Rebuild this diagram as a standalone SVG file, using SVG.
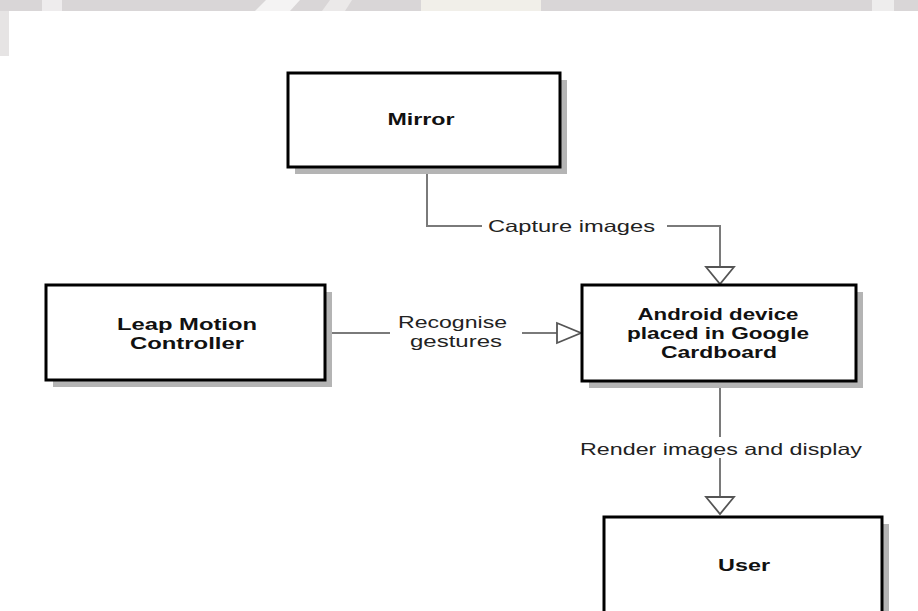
<svg xmlns="http://www.w3.org/2000/svg" width="918" height="611" viewBox="0 0 918 611">
  <style>
    .shadow { fill: #b4b4b4; }
    .box { fill: #ffffff; stroke: #000000; stroke-width: 3; }
    .lbl { font-family: "Liberation Sans", Arial, sans-serif; font-weight: bold; font-size: 16.5px; fill: #111111; text-anchor: middle; }
    .conn { fill: none; stroke: #7a7a7a; stroke-width: 2; }
    .head { fill: #ffffff; stroke: #555555; stroke-width: 1.8; stroke-linejoin: miter; }
    .clbl { font-family: "Liberation Sans", Arial, sans-serif; font-size: 16.5px; fill: #222222; }
  </style>
  <rect x="0" y="0" width="918" height="611" fill="#ffffff"/>
  <!-- faint watermark band at top -->
  <g id="band">
    <rect x="0" y="0" width="918" height="11" fill="#d9d6d7"/>
    <rect x="0" y="11" width="9" height="45" fill="#e6e4e4"/>
    <rect x="42" y="0" width="20" height="11" fill="#eeeced"/>
    <polygon points="266,0 300,0 290,11 255,11" fill="#f4f3f3"/>
    <polygon points="330,0 352,0 345,11 322,11" fill="#ebe9e9"/>
    <rect x="421" y="0" width="120" height="11" fill="#f1efe9"/>
    <rect x="872" y="0" width="22" height="11" fill="#eeeded"/>
  </g>

  <g id="connectors">
    <!-- Mirror -> Android -->
    <polyline class="conn" points="427,168 427,226 482,226"/>
    <polyline class="conn" points="667,226 720,226 720,267"/>
    <polygon class="head" points="706,267 734,267 720,284"/>
    <text class="clbl" x="488" y="232" textLength="167" lengthAdjust="spacingAndGlyphs">Capture images</text>
    <!-- Leap -> Android -->
    <line class="conn" x1="326" y1="333" x2="390" y2="333"/>
    <line class="conn" x1="522" y1="333" x2="557" y2="333"/>
    <polygon class="head" points="557,323 557,343 581,333"/>
    <text class="clbl" x="398" y="328" textLength="109" lengthAdjust="spacingAndGlyphs">Recognise</text>
    <text class="clbl" x="410" y="347" textLength="92" lengthAdjust="spacingAndGlyphs">gestures</text>
    <!-- Android -> User -->
    <line class="conn" x1="720" y1="382" x2="720" y2="437"/>
    <line class="conn" x1="720" y1="458" x2="720" y2="497"/>
    <polygon class="head" points="706,497 734,497 720,514"/>
    <text class="clbl" x="580" y="455" textLength="282" lengthAdjust="spacingAndGlyphs">Render images and display</text>
  </g>

  <g id="mirror">
    <rect class="shadow" x="295" y="80" width="272" height="94"/>
    <rect class="box" x="288" y="73" width="272" height="94"/>
    <text class="lbl" x="421" y="125" textLength="67" lengthAdjust="spacingAndGlyphs">Mirror</text>
  </g>

  <g id="leap">
    <rect class="shadow" x="53" y="292" width="279" height="95"/>
    <rect class="box" x="46" y="285" width="279" height="95"/>
    <text class="lbl" x="187" y="330" textLength="140" lengthAdjust="spacingAndGlyphs">Leap Motion</text>
    <text class="lbl" x="187" y="349" textLength="114" lengthAdjust="spacingAndGlyphs">Controller</text>
  </g>

  <g id="android">
    <rect class="shadow" x="589" y="292" width="274" height="96"/>
    <rect class="box" x="582" y="285" width="274" height="96"/>
    <text class="lbl" x="718" y="320" textLength="161" lengthAdjust="spacingAndGlyphs">Android device</text>
    <text class="lbl" x="718" y="339" textLength="182" lengthAdjust="spacingAndGlyphs">placed in Google</text>
    <text class="lbl" x="719" y="358" textLength="116" lengthAdjust="spacingAndGlyphs">Cardboard</text>
  </g>

  <g id="user">
    <rect class="shadow" x="611" y="524" width="278" height="100"/>
    <rect class="box" x="604" y="517" width="278" height="100"/>
    <text class="lbl" x="744" y="571" textLength="52" lengthAdjust="spacingAndGlyphs">User</text>
  </g>
</svg>
